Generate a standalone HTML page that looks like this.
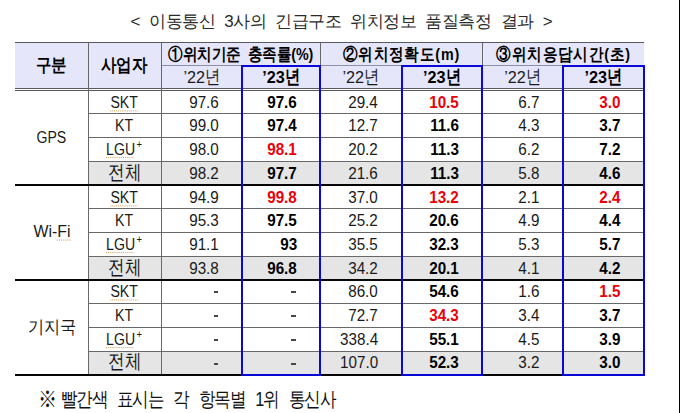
<!DOCTYPE html>
<html lang="ko"><head><meta charset="utf-8"><title>table</title>
<style>
html,body{margin:0;padding:0;background:#fff;}
body{width:680px;height:413px;position:relative;overflow:hidden;font-family:"Liberation Sans",sans-serif;color:#1a1a1a;}
.b,.c{position:absolute;box-sizing:border-box;}
.hd{background:#e6e6fa;}
.gr{background:#e5e5e5;}
.l1{background:#58585f;}
.l2{background:#686868;}
.l3{background:#8e8ea6;}
.tk{background:#060606;}
.bl{border:2px solid #0a08d8;}
.da{background:#484848;}
.c{display:flex;align-items:center;justify-content:center;white-space:nowrap;}
.h1{font-weight:bold;font-size:18.3px;color:#000;}
.h1 span{display:inline-block;transform:translate(-1px,-0.9px) scaleX(0.86);}
.h2{font-weight:bold;font-size:16.7px;color:#000;word-spacing:3px;}
.ls{letter-spacing:1px;}
.h2 span{display:inline-block;transform:translate(0,-0.4px) scaleX(0.856);}
.yr{font-size:15px;}
.bd{font-weight:bold;color:#000;}
.ct{font-size:15px;}
.nm{font-size:15px;}
.nu{font-size:15px;justify-content:flex-end;padding-right:24px;}
.rd{color:#ea0008;}
sup{font-size:10px;line-height:0;position:relative;top:0px;left:1.5px;vertical-align:super;}
.wv{text-decoration:underline dotted #e0a45e 1px;text-underline-offset:1.5px;}
.nu span{display:inline-block;transform:translate(0.4px,-0.1px) scale(1.015,1.12);transform-origin:50% 81%;}
.lt{display:inline-block;transform:translate(-0.5px,0px) scale(0.94,1.14);transform-origin:50% 81%;}
.ko{display:inline-block;font-size:20px;transform:translateY(-1.5px) scaleX(0.83);}
.wf{transform:translate(0.5px,-0.8px) scale(1.06,1.14);}
.lg{transform:translate(-2px,-0.3px) scale(0.94,1.14);}
.ko2{display:inline-block;font-size:17.5px;transform:scaleX(0.9);}
.ttl{position:absolute;left:130.5px;top:10px;font-size:17px;white-space:nowrap;letter-spacing:-0.5px;word-spacing:4.9px;color:#2a2a2a;}
.ft{position:absolute;left:39px;top:386px;font-size:19.7px;white-space:nowrap;letter-spacing:-1.33px;word-spacing:7.8px;transform:scaleX(0.83);transform-origin:0 0;color:#111;}
.ft i{font-style:normal;display:inline-block;transform:scale(1.18);transform-origin:50% 60%;margin-right:-4.6px;}
.k{font-size:17px;display:inline-block;transform:scale(0.9,1.12);transform-origin:0 85%;margin-right:-1.7px;}
.yd{display:inline-block;font-size:16.2px;transform:scaleY(1.06);transform-origin:50% 81%;}
.edge{position:absolute;left:678.6px;top:0;width:1.4px;height:413px;background:#000;}
</style></head><body>
<div class="ttl">&lt; 이동통신 3사의 긴급구조 위치정보 품질측정 결과 &gt;</div>
<div class="b hd" style="left:15px;top:43px;width:628.8px;height:45px;"></div>
<div class="b gr" style="left:89px;top:162px;width:554.8px;height:22px;"></div>
<div class="b gr" style="left:89px;top:257px;width:554.8px;height:22px;"></div>
<div class="b gr" style="left:89px;top:351.5px;width:554.8px;height:22.5px;"></div>
<div class="b l1" style="left:15px;top:42px;width:628.8px;height:1px;"></div>
<div class="b l3" style="left:162px;top:65px;width:482.8px;height:1.3px;"></div>
<div class="b l1" style="left:15px;top:88px;width:628.8px;height:1px;"></div>
<div class="b l1" style="left:15px;top:90px;width:628.8px;height:1px;"></div>
<div class="b l2" style="left:89px;top:113px;width:555.8px;height:1px;"></div>
<div class="b l2" style="left:89px;top:137px;width:555.8px;height:1px;"></div>
<div class="b l2" style="left:89px;top:161px;width:555.8px;height:1px;"></div>
<div class="b l2" style="left:89px;top:208px;width:555.8px;height:1px;"></div>
<div class="b l2" style="left:89px;top:232px;width:555.8px;height:1px;"></div>
<div class="b l2" style="left:89px;top:256px;width:555.8px;height:1px;"></div>
<div class="b l2" style="left:89px;top:303px;width:555.8px;height:1px;"></div>
<div class="b l2" style="left:89px;top:327px;width:555.8px;height:1px;"></div>
<div class="b l2" style="left:89px;top:350.5px;width:555.8px;height:1px;"></div>
<div class="b l2" style="left:88px;top:42px;width:1px;height:334px;"></div>
<div class="b l2" style="left:161px;top:42px;width:1px;height:334px;"></div>
<div class="b l2" style="left:320px;top:43px;width:1px;height:22px;"></div>
<div class="b l2" style="left:482px;top:43px;width:1px;height:22px;"></div>
<div class="b tk" style="left:15px;top:184px;width:628.8px;height:2px;"></div>
<div class="b tk" style="left:15px;top:279px;width:628.8px;height:1.8px;"></div>
<div class="b tk" style="left:15px;top:374px;width:628.8px;height:1.8px;"></div>
<div class="b bl" style="left:241.35px;top:64.9px;width:79.85px;height:311px;"></div>
<div class="b bl" style="left:400.7px;top:64.9px;width:82.55px;height:311px;"></div>
<div class="b bl" style="left:562.05px;top:64.9px;width:82.85px;height:311px;"></div>
<div class="c h1" style="left:15px;top:43px;width:73.5px;height:45px;"><span>구분</span></div>
<div class="c h1" style="left:88.5px;top:43px;width:73px;height:45px;"><span>사업자</span></div>
<div class="c h2" style="left:161.5px;top:43px;width:158.7px;height:22.5px;"><span>①위치기준 충족률(%)</span></div>
<div class="c h2 ls" style="left:320.2px;top:43px;width:162.05px;height:22.5px;"><span>②위치정확도(m)</span></div>
<div class="c h2 ls" style="left:482.25px;top:43px;width:161.65px;height:22.5px;"><span>③위치응답시간(초)</span></div>
<div class="c yr" style="left:161.5px;top:66px;width:80.85px;height:22px;"><span class="yd">’22</span><span class="k">년</span></div>
<div class="c yr bd" style="left:242.35px;top:66px;width:77.85px;height:22px;"><span class="yd">’23</span><span class="k">년</span></div>
<div class="c yr" style="left:320.2px;top:66px;width:81.5px;height:22px;"><span class="yd">’22</span><span class="k">년</span></div>
<div class="c yr bd" style="left:401.7px;top:66px;width:80.55px;height:22px;"><span class="yd">’23</span><span class="k">년</span></div>
<div class="c yr" style="left:482.25px;top:66px;width:80.8px;height:22px;"><span class="yd">’22</span><span class="k">년</span></div>
<div class="c yr bd" style="left:563.05px;top:66px;width:80.85px;height:22px;"><span class="yd">’23</span><span class="k">년</span></div>
<div class="c ct" style="left:15px;top:91px;width:73.5px;height:93px;"><span class="lt">GPS</span></div>
<div class="c ct" style="left:15px;top:186px;width:73.5px;height:93px;"><span class="lt wf">Wi-<span class="wv">Fi</span></span></div>
<div class="c ct" style="left:15px;top:280.7px;width:73.5px;height:93.3px;"><span class="ko2">기지국</span></div>
<div class="c nm" style="left:88.5px;top:91px;width:73px;height:22px;"><span class="lt wv">SKT</span></div>
<div class="c nu" style="left:161.5px;top:91px;width:80.85px;height:22px;"><span>97.6</span></div>
<div class="c nu bd" style="left:242.35px;top:91px;width:77.85px;height:22px;"><span>97.6</span></div>
<div class="c nu" style="left:320.2px;top:91px;width:81.5px;height:22px;"><span>29.4</span></div>
<div class="c nu bd rd" style="left:401.7px;top:91px;width:80.55px;height:22px;"><span>10.5</span></div>
<div class="c nu" style="left:482.25px;top:91px;width:80.8px;height:22px;"><span>6.7</span></div>
<div class="c nu bd rd" style="left:563.05px;top:91px;width:80.85px;height:22px;"><span>3.0</span></div>
<div class="c nm" style="left:88.5px;top:114px;width:73px;height:23px;"><span class="lt">KT</span></div>
<div class="c nu" style="left:161.5px;top:114px;width:80.85px;height:23px;"><span>99.0</span></div>
<div class="c nu bd" style="left:242.35px;top:114px;width:77.85px;height:23px;"><span>97.4</span></div>
<div class="c nu" style="left:320.2px;top:114px;width:81.5px;height:23px;"><span>12.7</span></div>
<div class="c nu bd" style="left:401.7px;top:114px;width:80.55px;height:23px;"><span>11.6</span></div>
<div class="c nu" style="left:482.25px;top:114px;width:80.8px;height:23px;"><span>4.3</span></div>
<div class="c nu bd" style="left:563.05px;top:114px;width:80.85px;height:23px;"><span>3.7</span></div>
<div class="c nm" style="left:88.5px;top:138px;width:73px;height:23px;"><span class="lt lg"><span class="wv">LGU</span><sup>+</sup></span></div>
<div class="c nu" style="left:161.5px;top:138px;width:80.85px;height:23px;"><span>98.0</span></div>
<div class="c nu bd rd" style="left:242.35px;top:138px;width:77.85px;height:23px;"><span>98.1</span></div>
<div class="c nu" style="left:320.2px;top:138px;width:81.5px;height:23px;"><span>20.2</span></div>
<div class="c nu bd" style="left:401.7px;top:138px;width:80.55px;height:23px;"><span>11.3</span></div>
<div class="c nu" style="left:482.25px;top:138px;width:80.8px;height:23px;"><span>6.2</span></div>
<div class="c nu bd" style="left:563.05px;top:138px;width:80.85px;height:23px;"><span>7.2</span></div>
<div class="c nm" style="left:88.5px;top:162px;width:73px;height:22px;"><span class="ko">전체</span></div>
<div class="c nu" style="left:161.5px;top:162px;width:80.85px;height:22px;"><span>98.2</span></div>
<div class="c nu bd" style="left:242.35px;top:162px;width:77.85px;height:22px;"><span>97.7</span></div>
<div class="c nu" style="left:320.2px;top:162px;width:81.5px;height:22px;"><span>21.6</span></div>
<div class="c nu bd" style="left:401.7px;top:162px;width:80.55px;height:22px;"><span>11.3</span></div>
<div class="c nu" style="left:482.25px;top:162px;width:80.8px;height:22px;"><span>5.8</span></div>
<div class="c nu bd" style="left:563.05px;top:162px;width:80.85px;height:22px;"><span>4.6</span></div>
<div class="c nm" style="left:88.5px;top:186px;width:73px;height:22px;"><span class="lt wv">SKT</span></div>
<div class="c nu" style="left:161.5px;top:186px;width:80.85px;height:22px;"><span>94.9</span></div>
<div class="c nu bd rd" style="left:242.35px;top:186px;width:77.85px;height:22px;"><span>99.8</span></div>
<div class="c nu" style="left:320.2px;top:186px;width:81.5px;height:22px;"><span>37.0</span></div>
<div class="c nu bd rd" style="left:401.7px;top:186px;width:80.55px;height:22px;"><span>13.2</span></div>
<div class="c nu" style="left:482.25px;top:186px;width:80.8px;height:22px;"><span>2.1</span></div>
<div class="c nu bd rd" style="left:563.05px;top:186px;width:80.85px;height:22px;"><span>2.4</span></div>
<div class="c nm" style="left:88.5px;top:209px;width:73px;height:23px;"><span class="lt">KT</span></div>
<div class="c nu" style="left:161.5px;top:209px;width:80.85px;height:23px;"><span>95.3</span></div>
<div class="c nu bd" style="left:242.35px;top:209px;width:77.85px;height:23px;"><span>97.5</span></div>
<div class="c nu" style="left:320.2px;top:209px;width:81.5px;height:23px;"><span>25.2</span></div>
<div class="c nu bd" style="left:401.7px;top:209px;width:80.55px;height:23px;"><span>20.6</span></div>
<div class="c nu" style="left:482.25px;top:209px;width:80.8px;height:23px;"><span>4.9</span></div>
<div class="c nu bd" style="left:563.05px;top:209px;width:80.85px;height:23px;"><span>4.4</span></div>
<div class="c nm" style="left:88.5px;top:233px;width:73px;height:23px;"><span class="lt lg"><span class="wv">LGU</span><sup>+</sup></span></div>
<div class="c nu" style="left:161.5px;top:233px;width:80.85px;height:23px;"><span>91.1</span></div>
<div class="c nu bd" style="left:242.35px;top:233px;width:77.85px;height:23px;"><span>93</span></div>
<div class="c nu" style="left:320.2px;top:233px;width:81.5px;height:23px;"><span>35.5</span></div>
<div class="c nu bd" style="left:401.7px;top:233px;width:80.55px;height:23px;"><span>32.3</span></div>
<div class="c nu" style="left:482.25px;top:233px;width:80.8px;height:23px;"><span>5.3</span></div>
<div class="c nu bd" style="left:563.05px;top:233px;width:80.85px;height:23px;"><span>5.7</span></div>
<div class="c nm" style="left:88.5px;top:257px;width:73px;height:22px;"><span class="ko">전체</span></div>
<div class="c nu" style="left:161.5px;top:257px;width:80.85px;height:22px;"><span>93.8</span></div>
<div class="c nu bd" style="left:242.35px;top:257px;width:77.85px;height:22px;"><span>96.8</span></div>
<div class="c nu" style="left:320.2px;top:257px;width:81.5px;height:22px;"><span>34.2</span></div>
<div class="c nu bd" style="left:401.7px;top:257px;width:80.55px;height:22px;"><span>20.1</span></div>
<div class="c nu" style="left:482.25px;top:257px;width:80.8px;height:22px;"><span>4.1</span></div>
<div class="c nu bd" style="left:563.05px;top:257px;width:80.85px;height:22px;"><span>4.2</span></div>
<div class="c nm" style="left:88.5px;top:280.7px;width:73px;height:22.3px;"><span class="lt wv">SKT</span></div>
<div class="b da" style="left:213.55px;top:291.3px;width:4.6px;height:2px;"></div>
<div class="b da" style="left:291.4px;top:291.3px;width:4.6px;height:2px;"></div>
<div class="c nu" style="left:320.2px;top:280.7px;width:81.5px;height:22.3px;"><span>86.0</span></div>
<div class="c nu bd" style="left:401.7px;top:280.7px;width:80.55px;height:22.3px;"><span>54.6</span></div>
<div class="c nu" style="left:482.25px;top:280.7px;width:80.8px;height:22.3px;"><span>1.6</span></div>
<div class="c nu bd rd" style="left:563.05px;top:280.7px;width:80.85px;height:22.3px;"><span>1.5</span></div>
<div class="c nm" style="left:88.5px;top:304px;width:73px;height:23px;"><span class="lt">KT</span></div>
<div class="b da" style="left:213.55px;top:314.9px;width:4.6px;height:2px;"></div>
<div class="b da" style="left:291.4px;top:314.9px;width:4.6px;height:2px;"></div>
<div class="c nu" style="left:320.2px;top:304px;width:81.5px;height:23px;"><span>72.7</span></div>
<div class="c nu bd rd" style="left:401.7px;top:304px;width:80.55px;height:23px;"><span>34.3</span></div>
<div class="c nu" style="left:482.25px;top:304px;width:80.8px;height:23px;"><span>3.4</span></div>
<div class="c nu bd" style="left:563.05px;top:304px;width:80.85px;height:23px;"><span>3.7</span></div>
<div class="c nm" style="left:88.5px;top:328px;width:73px;height:22.5px;"><span class="lt lg"><span class="wv">LGU</span><sup>+</sup></span></div>
<div class="b da" style="left:213.55px;top:338.9px;width:4.6px;height:2px;"></div>
<div class="b da" style="left:291.4px;top:338.9px;width:4.6px;height:2px;"></div>
<div class="c nu" style="left:320.2px;top:328px;width:81.5px;height:22.5px;"><span>338.4</span></div>
<div class="c nu bd" style="left:401.7px;top:328px;width:80.55px;height:22.5px;"><span>55.1</span></div>
<div class="c nu" style="left:482.25px;top:328px;width:80.8px;height:22.5px;"><span>4.5</span></div>
<div class="c nu bd" style="left:563.05px;top:328px;width:80.85px;height:22.5px;"><span>3.9</span></div>
<div class="c nm" style="left:88.5px;top:351.5px;width:73px;height:22.5px;"><span class="ko">전체</span></div>
<div class="b da" style="left:213.55px;top:362.5px;width:4.6px;height:2px;"></div>
<div class="b da" style="left:291.4px;top:362.5px;width:4.6px;height:2px;"></div>
<div class="c nu" style="left:320.2px;top:351.5px;width:81.5px;height:22.5px;"><span>107.0</span></div>
<div class="c nu bd" style="left:401.7px;top:351.5px;width:80.55px;height:22.5px;"><span>52.3</span></div>
<div class="c nu" style="left:482.25px;top:351.5px;width:80.8px;height:22.5px;"><span>3.2</span></div>
<div class="c nu bd" style="left:563.05px;top:351.5px;width:80.85px;height:22.5px;"><span>3.0</span></div>
<div class="ft"><i>※</i> 빨간색 표시는 각 항목별 1위 통신사</div>
<div class="edge"></div>
</body></html>
